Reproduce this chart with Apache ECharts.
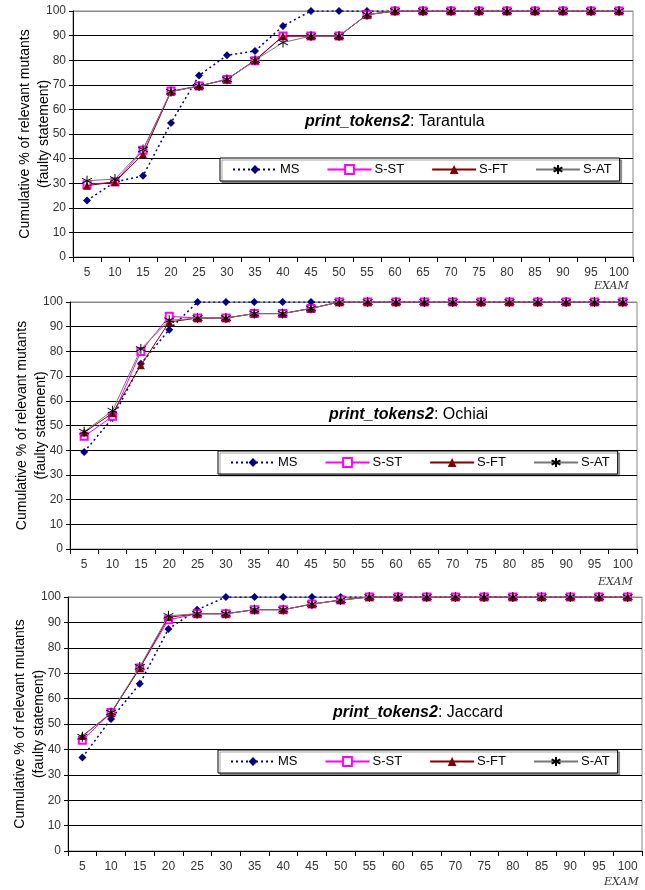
<!DOCTYPE html>
<html>
<head>
<meta charset="utf-8">
<script src="https://cdn.jsdelivr.net/npm/echarts@6/dist/echarts.min.js"></script>
<style>
  html, body { margin: 0; padding: 0; background: #fff; }
  #main { width: 645px; height: 890px; }
</style>
</head>
<body>
<div id="main"></div>
<script>
// EXAM categories and tick labels
const exam = ['5', '10', '15', '20', '25', '30', '35', '40', '45', '50',
              '55', '60', '65', '70', '75', '80', '85', '90', '95', '100'];
const yTicks = [0, 10, 20, 30, 40, 50, 60, 70, 80, 90, 100];
const seriesNames = ['MS', 'S-ST', 'S-FT', 'S-AT'];
const panelNames = ['Tarantula', 'Ochiai', 'Jaccard'];

// print_tokens2: Tarantula
const tarMS = [23, 30.5, 33, 54.5, 73.8, 82, 83.7, 93.9, 100, 100, 100, 100, 100, 100, 100, 100, 100, 100, 100, 100];
const tarST = [29.4, 30.5, 43.4, 67.5, 69.5, 72.2, 79.8, 89.8, 89.8, 89.8, 98.5, 100, 100, 100, 100, 100, 100, 100, 100, 100];
const tarFT = [29, 30.5, 41.8, 67.2, 69.5, 72.2, 80, 89.8, 89.8, 89.8, 98.5, 100, 100, 100, 100, 100, 100, 100, 100, 100];
const tarAT = [31, 31.7, 43.7, 67.2, 69.5, 72.2, 80, 87.2, 89.8, 89.8, 98.5, 100, 100, 100, 100, 100, 100, 100, 100, 100];

// print_tokens2: Ochiai
const ochMS = [39.3, 53, 75, 88.8, 100, 100, 100, 100, 100, 100, 100, 100, 100, 100, 100, 100, 100, 100, 100, 100];
const ochST = [45.6, 53.7, 80, 94.2, 93.5, 93.5, 95.3, 95.3, 97.4, 100, 100, 100, 100, 100, 100, 100, 100, 100, 100, 100];
const ochFT = [47.2, 55, 74.4, 91.9, 93.5, 93.5, 95.3, 95.3, 97.4, 100, 100, 100, 100, 100, 100, 100, 100, 100, 100, 100];
const ochAT = [47.5, 56, 81, 92.6, 93.5, 93.5, 95.3, 95.3, 97.4, 100, 100, 100, 100, 100, 100, 100, 100, 100, 100, 100];

// print_tokens2: Jaccard
const jacMS = [36.8, 52, 65.8, 87.4, 95, 100, 100, 100, 100, 100, 100, 100, 100, 100, 100, 100, 100, 100, 100, 100];
const jacST = [43.6, 54.5, 72, 91, 93.4, 93.4, 95, 95, 97.2, 98.8, 100, 100, 100, 100, 100, 100, 100, 100, 100, 100];
const jacFT = [45.3, 54.2, 72, 92, 93.4, 93.4, 95, 95, 97.2, 98.8, 100, 100, 100, 100, 100, 100, 100, 100, 100, 100];
const jacAT = [45, 54.5, 72.5, 92.6, 93.4, 93.4, 95, 95, 97.2, 98.8, 100, 100, 100, 100, 100, 100, 100, 100, 100, 100];

const panelData = [
    [tarMS, tarST, tarFT, tarAT],
    [ochMS, ochST, ochFT, ochAT],
    [jacMS, jacST, jacFT, jacAT]
];

// layout per panel
const grids = [
    { left: 73, top: 11, right: 12, height: 246 },
    { left: 70, top: 302, right: 8, height: 247 },
    { left: 68, top: 597, right: 3, height: 254 }
];
const legendPos = [
    { left: 220, top: 158 },
    { left: 218, top: 451 },
    { left: 218, top: 750 }
];
const titlePos = [[305, 122], [329, 415], [333, 713]];
const examPos = [[594, 286], [598, 582], [604, 882]];

const asterisk = 'path://M5 0 L5 10 M0.7 2.5 L9.3 7.5 M0.7 7.5 L9.3 2.5';

const styles = [
    { symbol: 'diamond', symbolSize: 8, color: '#000080',
      lineStyle: { color: '#000080', width: 1.5, type: [2, 3] },
      itemStyle: { color: '#000080' } },
    { symbol: 'emptyRect', symbolSize: 7, color: '#ff00ff',
      lineStyle: { color: '#ff00ff', width: 1 },
      itemStyle: { color: '#ff00ff', borderColor: '#ff00ff', borderWidth: 1 } },
    { symbol: 'triangle', symbolSize: 8, color: '#800000',
      lineStyle: { color: '#800000', width: 1 },
      itemStyle: { color: '#800000' } },
    { symbol: asterisk, symbolSize: 10, color: '#000',
      lineStyle: { color: '#777', width: 1 },
      itemStyle: { color: 'rgba(0,0,0,0)', borderColor: '#000', borderWidth: 1 } }
];

const axisFont = { fontFamily: 'Liberation Sans, Arial, sans-serif', color: '#333', fontSize: 12 };
const splitColors = yTicks.map((t, i) => (i === yTicks.length - 1 ? '#888' : '#000'));

const xAxes = [], yAxes = [], series = [], legends = [], graphics = [];

grids.forEach((g, p) => {
    xAxes.push({
        type: 'category',
        gridIndex: p,
        data: exam,
        boundaryGap: true,
        axisLine: { lineStyle: { color: '#000', width: 1 } },
        axisTick: { show: true, length: 5, lineStyle: { color: '#000' } },
        axisLabel: Object.assign({ margin: 10, interval: 0 }, axisFont),
        splitLine: { show: false }
    });
    yAxes.push({
        type: 'value',
        gridIndex: p,
        min: 0,
        max: 100,
        interval: 10,
        name: 'Cumulative % of relevant mutants\n(faulty statement)',
        nameLocation: 'middle',
        nameGap: 19,
        nameMoveOverlap: false,
        nameTextStyle: {
            fontFamily: 'Liberation Sans, Arial, sans-serif',
            fontSize: 14,
            color: '#000',
            lineHeight: 19
        },
        axisLine: { show: true, lineStyle: { color: '#000', width: 1 } },
        axisTick: { show: true, length: 4, lineStyle: { color: '#000' } },
        axisLabel: Object.assign({ margin: 7 }, axisFont),
        splitLine: { show: true, lineStyle: { color: splitColors, width: 1 } }
    });

    panelData[p].forEach((vals, s) => {
        const st = styles[s];
        series.push({
            name: seriesNames[s],
            type: 'line',
            xAxisIndex: p,
            yAxisIndex: p,
            data: vals,
            symbol: st.symbol,
            symbolSize: st.symbolSize,
            showAllSymbol: true,
            color: st.color,
            lineStyle: st.lineStyle,
            itemStyle: st.itemStyle,
            animation: false,
            z: 2 + s
        });
    });

    legends.push({
        left: legendPos[p].left,
        top: legendPos[p].top,
        orient: 'horizontal',
        data: seriesNames,
        itemWidth: 44,
        itemHeight: 11,
        itemGap: 27,
        padding: [5, 8, 5, 12],
        backgroundColor: '#fff',
        borderColor: '#000',
        borderWidth: 1,
        shadowColor: 'rgba(0,0,0,0.35)',
        shadowOffsetX: 2,
        shadowOffsetY: 2,
        shadowBlur: 0,
        selectedMode: false,
        textStyle: { fontFamily: 'Liberation Sans, Arial, sans-serif', fontSize: 13, color: '#000', padding: [0, 0, 0, -2] }
    });

    graphics.push({
        type: 'text',
        x: titlePos[p][0],
        y: titlePos[p][1],
        z: 10,
        style: {
            text: '{b|print_tokens2}{n|: ' + panelNames[p] + '}',
            verticalAlign: 'middle',
            rich: {
                b: { fontFamily: 'Liberation Sans, Arial, sans-serif', fontSize: 16, fontWeight: 'bold', fontStyle: 'italic', fill: '#000' },
                n: { fontFamily: 'Liberation Sans, Arial, sans-serif', fontSize: 16, fill: '#000' }
            }
        }
    });
    graphics.push({
        type: 'text',
        x: examPos[p][0],
        y: examPos[p][1],
        z: 10,
        style: {
            text: 'EXAM',
            verticalAlign: 'middle',
            font: 'italic 11px "DejaVu Serif", serif',
            fill: '#333'
        }
    });
});

const chartDom = document.getElementById('main');
const myChart = echarts.init(chartDom, null, { renderer: 'canvas' });
myChart.setOption({
    animation: false,
    backgroundColor: '#fff',
    grid: grids.map(g => Object.assign({ show: true, borderColor: '#888', borderWidth: 1, backgroundColor: '#fff', outerBoundsMode: 'none' }, g)),
    xAxis: xAxes,
    yAxis: yAxes,
    legend: legends,
    series: series,
    graphic: graphics
});
</script>
</body>
</html>
